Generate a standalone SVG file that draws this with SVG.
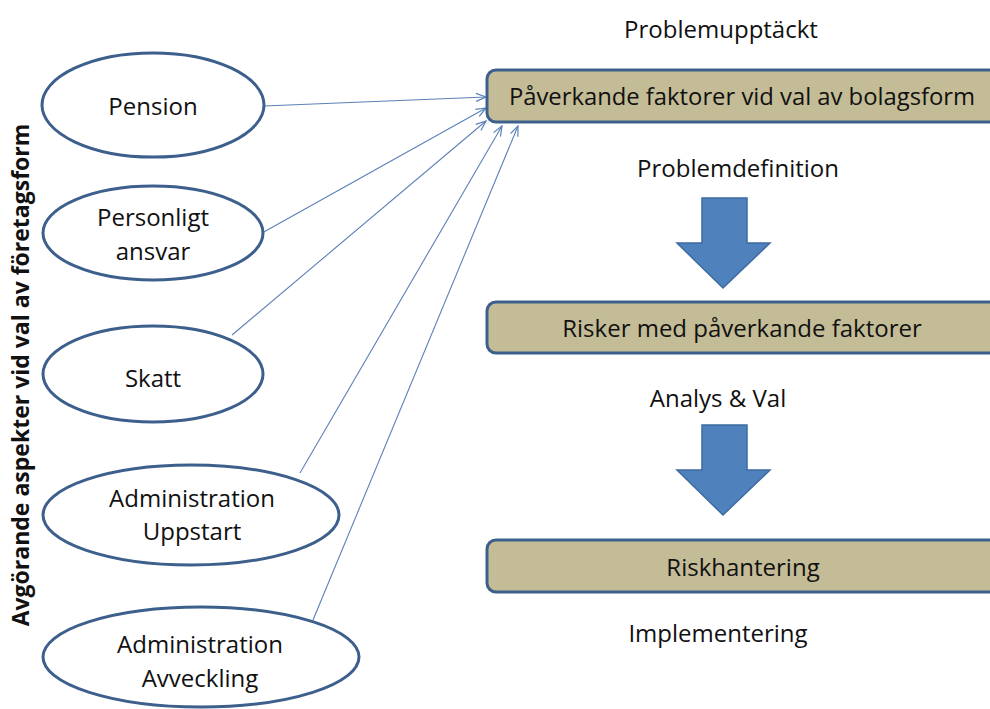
<svg xmlns="http://www.w3.org/2000/svg" width="990" height="709" viewBox="0 0 990 709">
<defs>
<style>
.t{font-family:"Open Sans","Liberation Sans",sans-serif;fill:#111;text-anchor:middle;dominant-baseline:central;font-size:24px}
.ell{fill:#fff;stroke:#3c5f8c;stroke-width:3}
.box{fill:#c4bc96;stroke:#3c5f8c;stroke-width:3}
.con{stroke:#5b80b8;stroke-width:1.1;fill:none;marker-end:url(#ah)}
.blk{fill:#4f81bd;stroke:#3e6b9f;stroke-width:1.5}
</style>
<marker id="ah" viewBox="0 0 12 10" refX="11" refY="5" markerWidth="12" markerHeight="10" markerUnits="userSpaceOnUse" orient="auto">
<path d="M1,1 L11,5 L1,9" fill="none" stroke="#5b80b8" stroke-width="1.2"/>
</marker>
</defs>
<rect width="990" height="709" fill="#fff"/>

<g id="connectors">
<line class="con" x1="264" y1="106" x2="486" y2="97"/>
<line class="con" x1="262" y1="233" x2="486" y2="108"/>
<line class="con" x1="232" y1="335" x2="486" y2="121"/>
<line class="con" x1="300" y1="473" x2="502" y2="126"/>
<line class="con" x1="313" y1="620" x2="518" y2="126"/>
</g>

<g id="pension">
<ellipse class="ell" cx="153" cy="105" rx="111" ry="52"/>
<text class="t" x="153" y="105">Pension</text>
</g>
<g id="personligt-ansvar">
<ellipse class="ell" cx="153" cy="233" rx="110" ry="47"/>
<text class="t" x="153" y="216">Personligt</text>
<text class="t" x="153" y="250">ansvar</text>
</g>
<g id="skatt">
<ellipse class="ell" cx="153" cy="374" rx="110" ry="48"/>
<text class="t" x="153" y="377">Skatt</text>
</g>
<g id="administration-uppstart">
<ellipse class="ell" cx="191" cy="515" rx="148" ry="50"/>
<text class="t" x="192" y="497">Administration</text>
<text class="t" x="192" y="530">Uppstart</text>
</g>
<g id="administration-avveckling">
<ellipse class="ell" cx="201" cy="657" rx="158" ry="50"/>
<text class="t" x="200" y="643">Administration</text>
<text class="t" x="200" y="677">Avveckling</text>
</g>

<g id="side-label">
<text class="t" transform="translate(20,375) rotate(-90)" style="font-size:23px" font-weight="bold">Avgörande aspekter vid val av företagsform</text>
</g>

<g id="problemupptackt">
<text class="t" x="721" y="28">Problemupptäckt</text>
</g>
<g id="paverkande">
<rect class="box" x="487" y="70" width="520" height="52" rx="9"/>
<text class="t" x="742" y="96" style="font-size:23.8px">Påverkande faktorer vid val av bolagsform</text>
</g>
<g id="problemdefinition">
<text class="t" x="738" y="167">Problemdefinition</text>
</g>
<g id="arrow1">
<path class="blk" d="M702,198 L747,198 L747,243 L770,243 L723,288 L677,243 L702,243 Z"/>
</g>
<g id="risker">
<rect class="box" x="487" y="302" width="520" height="51" rx="9"/>
<text class="t" x="742" y="327">Risker med påverkande faktorer</text>
</g>
<g id="analys">
<text class="t" x="718" y="397">Analys &amp; Val</text>
</g>
<g id="arrow2">
<path class="blk" d="M702,425 L747,425 L747,470 L770,470 L723,515 L677,470 L702,470 Z"/>
</g>
<g id="riskhantering">
<rect class="box" x="487" y="540" width="520" height="52" rx="9"/>
<text class="t" x="743" y="566">Riskhantering</text>
</g>
<g id="implementering">
<text class="t" x="718" y="632">Implementering</text>
</g>
</svg>
